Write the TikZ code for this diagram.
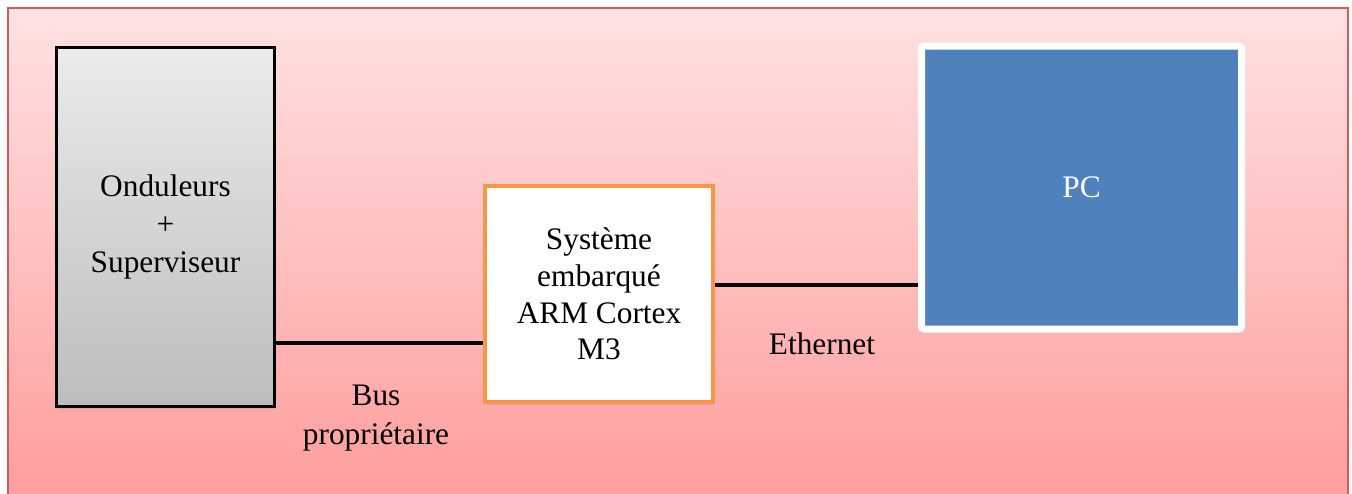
\documentclass[tikz,border=0pt]{standalone}
\usepackage{fontspec}
\setmainfont{Liberation Serif}
\usetikzlibrary{shadows}
\definecolor{framered}{HTML}{D35A5A}
\definecolor{pinktop}{HTML}{FFE2E2}
\definecolor{pinkbot}{HTML}{FF9C9C}
\definecolor{boxorange}{HTML}{F79646}
\definecolor{pcblue}{HTML}{4F81BD}
\tikzset{
	shade/.style={drop shadow={opacity=.25,shadow xshift=1pt,shadow yshift=-2pt}},
	bloc/.style={rectangle, align=center, font=\fontsize{23.5}{27.5}\selectfont, shade},
	wire/.style={line width=3pt}
}
\begin{document}
\begin{tikzpicture}[x=.75pt,y=-.75pt]
				\clip (0,0) rectangle (1352,493);
				\coordinate (g) at (165.5,227);
				\coordinate (s) at (599,294);
				\coordinate (p) at (1081.5,187.5);
				\coordinate (busy) at (0,343);
				\coordinate (ethy) at (0,285);
				%
				\draw[framered, top color=pinktop, bottom color=pinkbot, line width=1pt, shade] (8,8) rectangle (1348,505);
				%
				\node[bloc, draw=black, line width=2.25pt, top color=black!8, bottom color=black!26, minimum width=163.5pt, minimum height=269.25pt, font=\fontsize{23.5}{28.75}\selectfont] (ond) at (g) {Onduleurs\\+\\Superviseur};
				\node[bloc, draw=boxorange, line width=3pt, fill=white, minimum width=171pt, minimum height=162pt] (sys) at (s) {Système\\embarqué\\ARM Cortex\\M3};
				\node[bloc, draw=white, line width=5.25pt, fill=pcblue, text=white, rounded corners=2pt, minimum width=240pt, minimum height=212.25pt] (pc) at (p) {PC};
				%
				\draw[wire] (busy -| ond.east) -- (busy -| sys.west);
				\draw[wire] (ethy -| sys.east) -- (ethy -| pc.west);
				\node[font=\fontsize{23.5}{28.75}\selectfont, align=center] (bus) at (376,418) {Bus\\propriétaire};
				\node[font=\fontsize{23.5}{27.5}\selectfont] (eth) at (822,344) {Ethernet};
			\end{tikzpicture}
\end{document}
